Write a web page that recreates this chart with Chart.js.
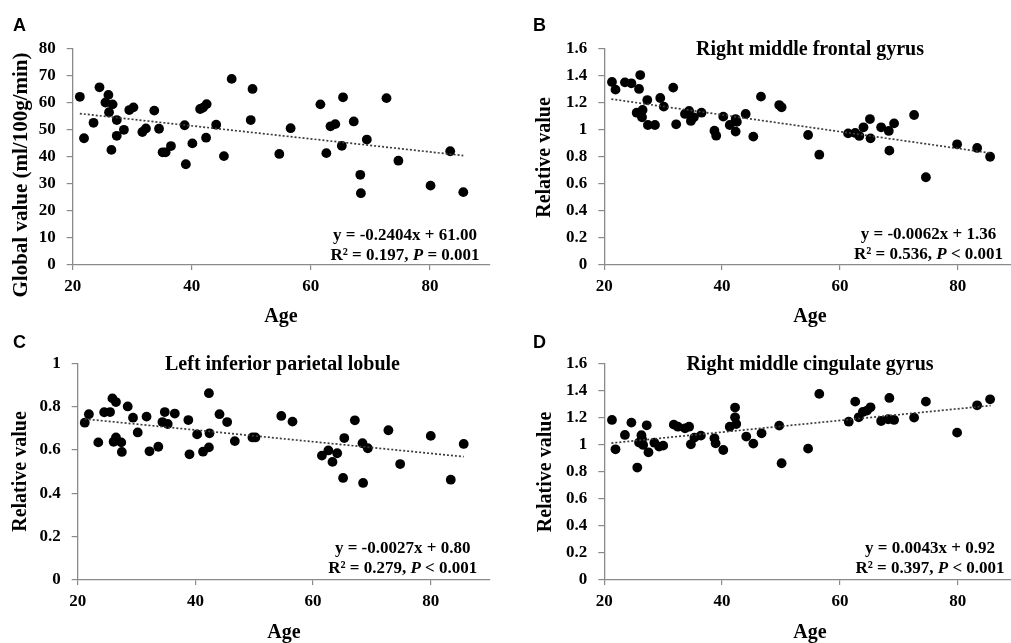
<!DOCTYPE html>
<html>
<head>
<meta charset="utf-8">
<script src="https://cdn.jsdelivr.net/npm/chart.js@4.4.1/dist/chart.umd.min.js"></script>
<style>
  html, body { margin: 0; padding: 0; background: #fff; overflow: hidden; }
  #wrap { position: relative; width: 1011px; height: 643px; overflow: hidden; background: #fff; }
  canvas { position: absolute; left: 0; top: 0; }
</style>
</head>
<body>
<div id="wrap">
  <canvas id="chartA" width="1030" height="643"></canvas>
  <canvas id="chartB" width="1030" height="643"></canvas>
  <canvas id="chartC" width="1030" height="643"></canvas>
  <canvas id="chartD" width="1030" height="643"></canvas>
</div>
<script>
// data

// A - global value
const agesA = [21.2, 21.9, 23.5, 24.5, 25.5, 26.0, 26.1, 26.5, 26.7, 27.4, 27.4, 28.6, 29.5, 30.2, 31.7, 32.3, 33.7, 34.5, 35.1, 35.6, 36.5, 38.8, 39.0, 40.1, 41.4, 41.9, 42.4, 42.5, 44.1, 45.4, 46.7, 49.9, 50.2, 54.7, 56.6, 61.6, 62.6, 63.3, 64.1, 65.2, 65.4, 67.2, 68.3, 68.4, 69.4, 72.7, 74.7, 80.1, 83.4, 85.6];
const globalA = [62.1, 46.8, 52.5, 65.6, 60.0, 62.8, 56.4, 42.5, 59.3, 53.5, 47.7, 49.9, 57.2, 58.2, 49.1, 50.4, 57.0, 50.3, 41.6, 41.6, 43.9, 51.6, 37.2, 44.9, 57.6, 58.1, 47.0, 59.4, 51.8, 40.2, 68.7, 53.5, 65.0, 41.0, 50.5, 59.3, 41.3, 51.2, 52.0, 44.0, 61.9, 53.0, 33.3, 26.5, 46.3, 61.6, 38.5, 29.3, 42.0, 26.9];

// B - right middle frontal gyrus
const agesB = [21.3, 21.9, 23.5, 24.6, 25.5, 25.9, 26.1, 26.4, 26.5, 27.3, 27.4, 28.6, 29.5, 30.1, 31.7, 32.2, 33.7, 34.4, 34.7, 35.2, 36.5, 38.7, 39.0, 40.2, 41.3, 42.3, 42.5, 42.3, 44.0, 45.3, 46.6, 49.7, 50.1, 54.6, 56.5, 61.4, 62.6, 63.3, 64.0, 65.1, 65.2, 67.0, 68.3, 68.4, 69.2, 72.6, 74.6, 79.9, 83.3, 85.5];
const frontalB = [1.356, 1.299, 1.353, 1.346, 1.128, 1.304, 1.407, 1.094, 1.148, 1.222, 1.037, 1.037, 1.237, 1.173, 1.314, 1.042, 1.119, 1.141, 1.067, 1.094, 1.128, 0.995, 0.958, 1.099, 1.037, 1.081, 1.060, 0.988, 1.119, 0.951, 1.247, 1.185, 1.168, 0.963, 0.817, 0.975, 0.978, 0.956, 1.020, 1.081, 0.938, 1.020, 0.993, 0.847, 1.049, 1.111, 0.650, 0.894, 0.867, 0.802];

// C - left inferior parietal lobule
const agesC = [21.2, 21.9, 23.5, 24.5, 25.5, 25.9, 26.5, 26.1, 26.5, 27.4, 27.5, 28.5, 29.4, 30.2, 31.7, 32.2, 33.7, 34.4, 34.8, 35.3, 36.5, 38.8, 39.0, 40.3, 41.3, 42.3, 42.3, 42.4, 44.1, 45.4, 46.7, 49.7, 50.2, 54.6, 56.5, 61.5, 62.6, 63.3, 64.1, 65.3, 65.1, 67.1, 68.4, 68.5, 69.3, 72.8, 74.8, 80.0, 83.4, 85.6];
const parietalC = [0.726, 0.765, 0.635, 0.774, 0.775, 0.838, 0.821, 0.638, 0.658, 0.635, 0.591, 0.801, 0.749, 0.681, 0.754, 0.594, 0.615, 0.729, 0.775, 0.720, 0.768, 0.738, 0.580, 0.672, 0.592, 0.612, 0.862, 0.677, 0.765, 0.729, 0.641, 0.658, 0.658, 0.757, 0.731, 0.574, 0.598, 0.545, 0.585, 0.655, 0.471, 0.737, 0.631, 0.448, 0.608, 0.691, 0.535, 0.665, 0.463, 0.628];

// D - right middle cingulate gyrus
const agesD = [21.3, 21.9, 23.5, 24.6, 25.6, 25.9, 26.3, 26.4, 26.6, 27.2, 27.5, 28.5, 29.3, 30.0, 31.8, 32.5, 33.7, 34.4, 34.7, 35.3, 36.4, 38.7, 38.9, 40.2, 41.3, 42.2, 42.2, 42.4, 44.1, 45.3, 46.7, 49.7, 50.1, 54.6, 56.5, 61.5, 62.6, 63.2, 63.9, 64.6, 65.2, 67.0, 68.2, 68.4, 69.2, 72.6, 74.6, 79.9, 83.3, 85.5];
const cingulateD = [1.182, 0.965, 1.071, 1.162, 0.830, 1.015, 1.069, 1.039, 0.997, 1.142, 0.943, 1.014, 0.985, 0.992, 1.147, 1.132, 1.120, 1.132, 1.002, 1.051, 1.066, 1.046, 1.009, 0.960, 1.132, 1.201, 1.273, 1.152, 1.059, 1.007, 1.083, 1.140, 0.862, 0.970, 1.374, 1.169, 1.317, 1.201, 1.241, 1.251, 1.275, 1.174, 1.187, 1.344, 1.182, 1.199, 1.317, 1.088, 1.290, 1.334];

// trendlijnen (begin- en eindpunt)
const trendX = [21.2, 85.6];
const trendA = [55.9, 40.4];
const trendB = [1.229, 0.829];
const trendC = [0.743, 0.569];
const trendD = [1.011, 1.288];

// teksten
const xTicks = [20, 40, 60, 80];
const eqA = ["y = -0.2404x + 61.00", "R\u00B2 = 0.197, ", "P", " = 0.001"];
const eqB = ["y = -0.0062x + 1.36", "R\u00B2 = 0.536, ", "P", " < 0.001"];
const eqC = ["y = -0.0027x + 0.80", "R\u00B2 = 0.279, ", "P", " < 0.001"];
const eqD = ["y = 0.0043x + 0.92", "R\u00B2 = 0.397, ", "P", " < 0.001"];


const W = 1030, H = 643, YW = 60, XH = 40;
const serif = '"Liberation Serif", "Times New Roman", serif';
const tickFont = { family: serif, size: 17, weight: 'bold' };
const axisColor = '#8a8a8a';

function tekstPlugin(p) {
    return {
        id: 'tekst' + p.letter,
        afterDraw(chart) {
            const ctx = chart.ctx;
            ctx.save();
            ctx.fillStyle = '#000';
            ctx.textBaseline = 'alphabetic';

            // paneel letter
            ctx.font = 'bold 18px "Liberation Sans", Arial, sans-serif';
            ctx.textAlign = 'left';
            ctx.fillText(p.letter, p.pos.letter[0], p.pos.letter[1]);

            // titel
            ctx.font = 'bold 20px ' + serif;
            ctx.textAlign = 'center';
            if (p.title) ctx.fillText(p.title, p.pos.title[0], p.pos.title[1]);

            // x as titel
            ctx.fillText('Age', p.pos.xTitle[0], p.pos.xTitle[1]);

            // y as titel
            ctx.save();
            ctx.font = 'bold ' + p.yTitleSize + 'px ' + serif;
            ctx.translate(p.pos.yTitle[0], p.pos.yTitle[1]);
            ctx.rotate(-Math.PI / 2);
            ctx.textBaseline = 'middle';
            ctx.fillText(p.yTitle, 0, 0);
            ctx.restore();

            // vergelijking
            const normal = 'bold 17px ' + serif;
            const italic = 'italic bold 17px ' + serif;
            ctx.font = normal;
            ctx.textAlign = 'center';
            ctx.fillText(p.eq[0], p.pos.eq[0], p.pos.eq[1]);

            const parts = [[p.eq[1], normal], [p.eq[2], italic], [p.eq[3], normal]];
            let total = 0;
            parts.forEach(function(part) {
                ctx.font = part[1];
                total += ctx.measureText(part[0]).width;
            });
            let x = p.pos.eq[0] - total / 2;
            ctx.textAlign = 'left';
            parts.forEach(function(part) {
                ctx.font = part[1];
                ctx.fillText(part[0], x, p.pos.eq[2]);
                x += ctx.measureText(part[0]).width;
            });
            ctx.restore();
        }
    };
}

function maakPaneel(id, p) {
    const punten = p.x.map(function(v, i) { return { x: v, y: p.y[i] }; });
    const lijn = trendX.map(function(v, i) { return { x: v, y: p.trend[i] }; });

    return new Chart(document.getElementById(id), {
        type: 'scatter',
        data: {
            datasets: [{
                data: lijn,
                showLine: true,
                borderColor: '#3c3c3c',
                borderWidth: 1.7,
                borderDash: [2, 2],
                pointRadius: 0,
                fill: false,
                order: 0
            }, {
                data: punten,
                backgroundColor: '#000',
                borderWidth: 0,
                pointRadius: 4.9,
                pointHoverRadius: 4.9,
                order: 1
            }]
        },
        options: {
            responsive: false,
            animation: false,
            events: [],
            layout: {
                padding: {
                    left: p.area.left - YW,
                    top: p.area.top,
                    right: W - p.area.right,
                    bottom: H - p.area.bottom - XH
                }
            },
            plugins: {
                legend: { display: false },
                tooltip: { enabled: false }
            },
            scales: {
                x: {
                    type: 'linear',
                    min: 20,
                    max: 90,
                    bounds: 'data',
                    afterFit: function(s) { s.height = XH; },
                    afterBuildTicks: function(s) { s.ticks = xTicks.map(function(v) { return { value: v }; }); },
                    ticks: { font: tickFont, color: '#000', padding: 6, maxRotation: 0, autoSkip: false },
                    grid: { drawOnChartArea: false, tickLength: 5, color: axisColor, lineWidth: 1.2 },
                    border: { color: axisColor, width: 1.3 }
                },
                y: {
                    type: 'linear',
                    min: 0,
                    max: p.yMax,
                    afterFit: function(s) { s.width = YW; },
                    ticks: {
                        stepSize: p.yStep,
                        font: tickFont,
                        color: '#000',
                        padding: 11,
                        autoSkip: false,
                        callback: function(v) { return String(+v.toFixed(2)); }
                    },
                    grid: { drawOnChartArea: false, tickLength: 6, color: axisColor, lineWidth: 1.2 },
                    border: { color: axisColor, width: 1.3 }
                }
            }
        },
        plugins: [tekstPlugin(p)]
    });
}

maakPaneel('chartA', {
    letter: 'A', title: null, yTitle: 'Global value (ml/100g/min)', yTitleSize: 21,
    x: agesA, y: globalA, trend: trendA, eq: eqA, yMax: 80, yStep: 10,
    area: { left: 72.7, right: 489.5, top: 48.3, bottom: 265 },
    pos: { letter: [13, 31], xTitle: [281, 322], yTitle: [22, 175], eq: [405, 239.5, 259.5] }
});

maakPaneel('chartB', {
    letter: 'B', title: 'Right middle frontal gyrus', yTitle: 'Relative value', yTitleSize: 20,
    x: agesB, y: frontalB, trend: trendB, eq: eqB, yMax: 1.6, yStep: 0.2,
    area: { left: 604.3, right: 1016.6, top: 49, bottom: 265 },
    pos: { letter: [533, 31], title: [810, 54.5], xTitle: [810, 322], yTitle: [545, 157.5], eq: [928.5, 238.5, 258.5] }
});

maakPaneel('chartC', {
    letter: 'C', title: 'Left inferior parietal lobule', yTitle: 'Relative value', yTitleSize: 20,
    x: agesC, y: parietalC, trend: trendC, eq: eqC, yMax: 1, yStep: 0.2,
    area: { left: 77.7, right: 489.6, top: 363.3, bottom: 580 },
    pos: { letter: [13, 348], title: [282.5, 370], xTitle: [284, 638], yTitle: [21, 471.5], eq: [402.7, 553, 573] }
});

maakPaneel('chartD', {
    letter: 'D', title: 'Right middle cingulate gyrus', yTitle: 'Relative value', yTitleSize: 20,
    x: agesD, y: cingulateD, trend: trendD, eq: eqD, yMax: 1.6, yStep: 0.2,
    area: { left: 604.3, right: 1016.6, top: 363.3, bottom: 580 },
    pos: { letter: [533, 348], title: [810, 370], xTitle: [810, 638], yTitle: [545.5, 472], eq: [930, 553.3, 573] }
});
</script>
</body>
</html>
